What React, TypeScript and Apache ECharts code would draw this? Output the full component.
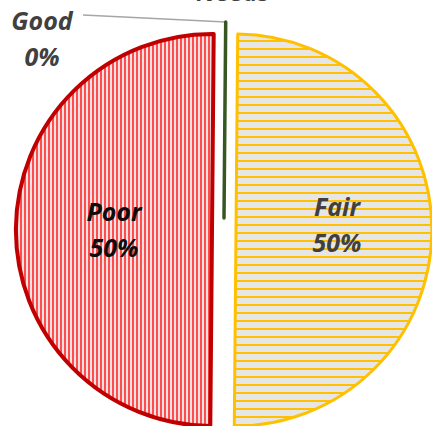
import React, { useEffect, useRef } from "react";
import * as echarts from "echarts";

const categories = ["Good", "Needs", "Fair", "Poor"];
const values = [0, 0, 50, 50];

function makeStripes(vertical: boolean): HTMLCanvasElement {
  const c = document.createElement("canvas");
  if (vertical) {
    c.width = 4;
    c.height = 4;
    const ctx = c.getContext("2d")!;
    ctx.fillStyle = "#F0E2E2";
    ctx.fillRect(0, 0, 4, 4);
    ctx.fillStyle = "#FF4D4D";
    ctx.fillRect(0, 0, 2, 4);
  } else {
    c.width = 8;
    c.height = 8;
    const ctx = c.getContext("2d")!;
    ctx.fillStyle = "#E6E6E6";
    ctx.fillRect(0, 0, 8, 8);
    ctx.fillStyle = "#FFC000";
    ctx.fillRect(0, 0, 8, 2);
  }
  return c;
}

export default function App() {
  const ref = useRef<HTMLDivElement>(null);
  useEffect(() => {
    document.body.style.margin = "0";
    const chart = echarts.init(ref.current!, null, { renderer: "svg" });
    const font = {
      fontFamily: "Open Sans",
      fontWeight: "bold" as const,
      fontStyle: "italic" as const,
      fontSize: 25,
      lineHeight: 36,
    };
    const sliceStyles: any[] = [
      {
        itemStyle: { color: "#375623", borderColor: "#375623", borderWidth: 3.5 },
        label: { position: "outside", color: "#404040" },
        labelLine: { show: true, length: 8, length2: 10, lineStyle: { color: "#A6A6A6", width: 1.5 } },
      },
      {
        itemStyle: { color: "#375623", borderWidth: 0 },
        label: { position: "outside", color: "#404040" },
        labelLine: { show: false },
      },
      {
        itemStyle: {
          color: { image: makeStripes(false), repeat: "repeat" },
          borderColor: "#FFC000",
          borderWidth: 3,
        },
        label: { position: "inside", color: "#404040" },
        labelLine: { show: false },
      },
      {
        itemStyle: {
          color: { image: makeStripes(true), repeat: "repeat" },
          borderColor: "#C00000",
          borderWidth: 4,
        },
        label: { position: "inside", color: "#0D0D0D" },
        labelLine: { show: false },
      },
    ];
    const hidden = {
      itemStyle: { color: "transparent", borderWidth: 0 },
      label: { show: false },
      labelLine: { show: false },
    };
    // each exploded part is its own pie (same data, shifted centre)
    const parts: { center: [number, number]; visible: number[] }[] = [
      { center: [224, 218], visible: [0, 1] },
      { center: [236, 230], visible: [2] },
      { center: [212, 230], visible: [3] },
    ];
    const series = parts.map((part) => ({
      type: "pie",
      center: part.center,
      radius: 196,
      startAngle: 89.5,
      clockwise: true,
      avoidLabelOverlap: false,
      minShowLabelAngle: 0,
      silent: true,
      emphasis: { disabled: true },
      label: {
        show: true,
        ...font,
        formatter: (p: any) => (p.name === "Needs" ? "Needs" : `${p.name}\n${p.percent}%`),
      },
      labelLayout: (p: any) => {
        if (p.dataIndex === 0) {
          const start = p.labelLinePoints ? p.labelLinePoints[0] : [224, 22];
          return {
            x: 42,
            y: 38,
            align: "center",
            verticalAlign: "middle",
            labelLinePoints: [start, [83, 15], [83, 15]],
          };
        }
        if (p.dataIndex === 1) return { x: 233, y: -9, align: "center", verticalAlign: "middle" };
        if (p.dataIndex === 2) return { dy: -7 };
        if (p.dataIndex === 3) return { dx: 3 };
        return {};
      },
      data: categories.map((name, i) => ({
        name,
        value: values[i],
        ...(part.visible.includes(i) ? sliceStyles[i] : hidden),
      })),
    }));
    chart.setOption({ animation: false, series });
    return () => chart.dispose();
  }, []);
  return <div ref={ref} style={{ width: 432, height: 426 }} />;
}
